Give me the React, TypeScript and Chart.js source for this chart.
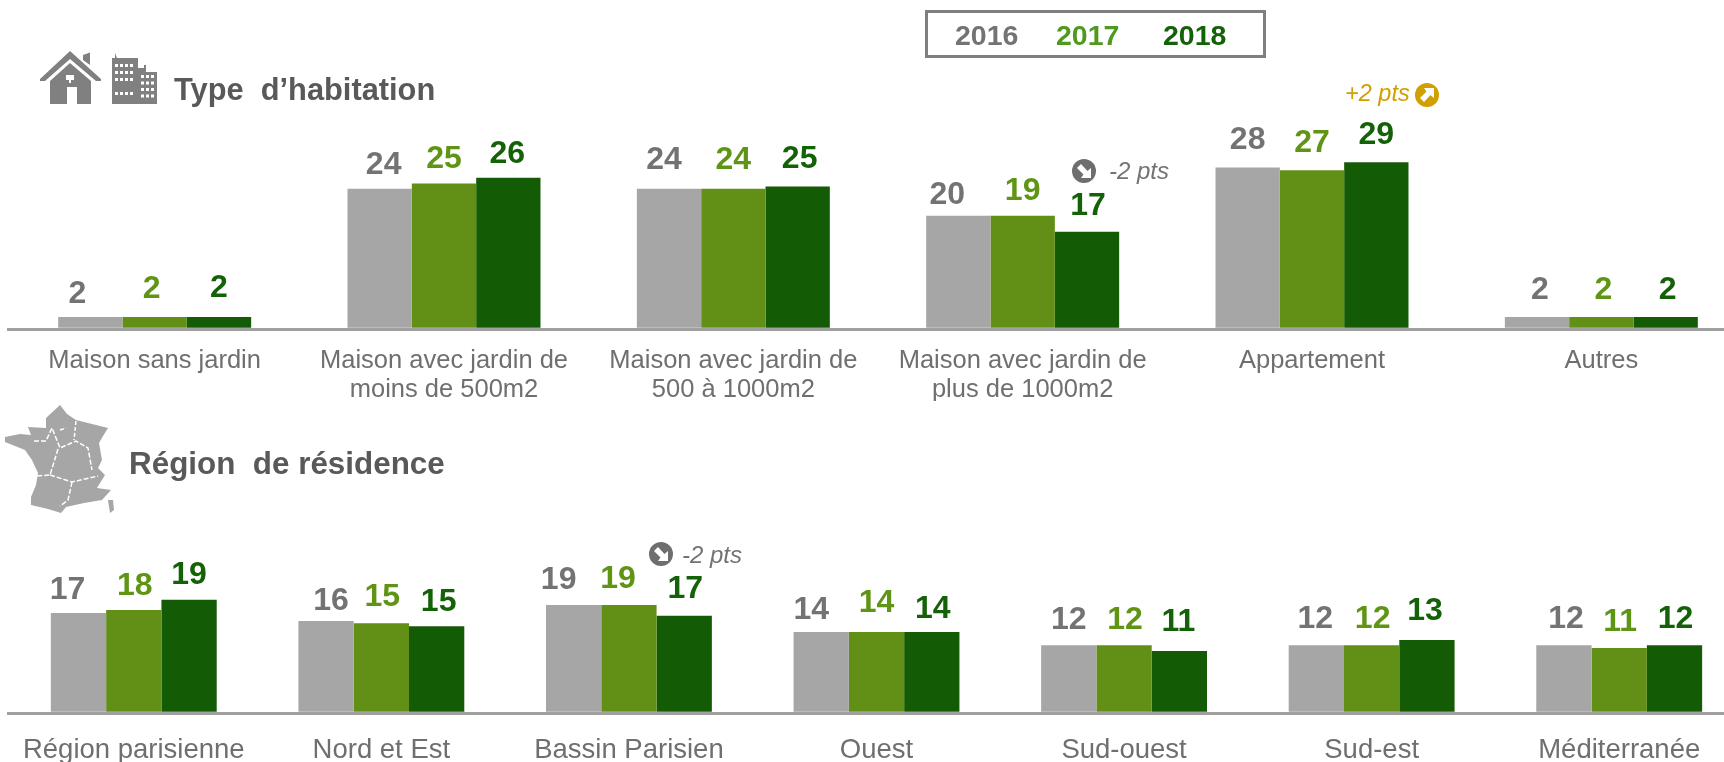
import React, { useEffect, useRef } from "react";
import { Chart, registerables } from "chart.js";

Chart.register(...registerables);

const seriesNames = ["2016", "2017", "2018"];

const housingCategories = [
  "Maison sans jardin",
  ["Maison avec jardin de", "moins de 500m2"],
  ["Maison avec jardin de", "500 à 1000m2"],
  ["Maison avec jardin de", "plus de 1000m2"],
  "Appartement",
  "Autres",
];
const housing2016 = [1.9, 24.2, 24.2, 19.5, 27.9, 1.9];
const housing2017 = [1.9, 25.1, 24.2, 19.5, 27.4, 1.9];
const housing2018 = [1.9, 26.1, 24.6, 16.7, 28.8, 1.9];
const housingLabels2016 = [2, 24, 24, 20, 28, 2];
const housingLabels2017 = [2, 25, 24, 19, 27, 2];
const housingLabels2018 = [2, 26, 25, 17, 29, 2];

const regionCategories = [
  "Région parisienne",
  "Nord et Est",
  "Bassin Parisien",
  "Ouest",
  "Sud-ouest",
  "Sud-est",
  "Méditerranée",
];
const region2016 = [17.2, 15.8, 18.6, 13.9, 11.6, 11.6, 11.6];
const region2017 = [17.7, 15.4, 18.6, 13.9, 11.6, 11.6, 11.1];
const region2018 = [19.5, 14.9, 16.7, 13.9, 10.6, 12.5, 11.6];
const regionLabels2016 = [17, 16, 19, 14, 12, 12, 12];
const regionLabels2017 = [18, 15, 19, 14, 12, 12, 11];
const regionLabels2018 = [19, 15, 17, 14, 11, 13, 12];

// label placement tweaks: [dx, height of label centre above the bar]
const housingNudges = [
  [[-13, 23], [-3, 28], [0, 29]],
  [[4, 24], [0, 24], [-1, 24]],
  [[-5, 29], [0, 29], [2, 27]],
  [[-11, 21], [0, 25], [1, 26]],
  [[0, 27], [0, 27], [0, 27]],
  [[3, 27], [2, 27], [2, 27]],
];
const regionNudges = [
  [[-11, 23], [1, 24], [0, 25]],
  [[5, 20], [1, 26], [2, 24]],
  [[-15, 25], [-11, 26], [1, 27]],
  [[-10, 22], [0, 29], [1, 23]],
  [[0, 25], [1, 25], [-1, 29]],
  [[-1, 26], [1, 26], [-2, 29]],
  [[2, 26], [1, 26], [1, 26]],
];

const BAR_COLORS = ["#a6a6a6", "#628f15", "#145b06"];
const TEXT_COLORS = ["#737373", "#5f9414", "#146207"];
const FONT = '"Liberation Sans", Arial, sans-serif';

const valueLabelPlugin = {
  id: "valueLabels",
  afterDraw(chart: any) {
    const { labels, nudges } = chart.options.plugins.valueLabels;
    const ctx = chart.ctx;
    ctx.save();
    ctx.textAlign = "center";
    ctx.textBaseline = "middle";
    ctx.font = `bold 32px ${FONT}`;
    labels.forEach((row: number[], ds: number) => {
      const meta = chart.getDatasetMeta(ds);
      row.forEach((v: number, i: number) => {
        const el = meta.data[i];
        const [dx, h] = nudges[i][ds];
        ctx.fillStyle = TEXT_COLORS[ds];
        ctx.fillText(String(v), el.x + dx, el.y - h);
      });
    });
    // axis line continues a little to the left of the plot area
    const y = Math.round(chart.scales.x.top - 1.5);
    ctx.fillStyle = "#a0a0a0";
    ctx.fillRect(0, y, chart.chartArea.left, 3);
    ctx.restore();
  },
};

function makeChart(
  canvas: HTMLCanvasElement,
  categories: any[],
  series: number[][],
  labels: number[][],
  nudges: number[][][],
  yMin: number,
  yMax: number,
  axisHeight: number,
  categoryPercentage: number,
  tickPadding: number,
  tickFontSize: number
) {
  return new Chart(canvas, {
    type: "bar",
    data: {
      labels: categories,
      datasets: series.map((data, i) => ({
        label: seriesNames[i],
        data,
        backgroundColor: BAR_COLORS[i],
        borderWidth: 0,
        barPercentage: 1,
        categoryPercentage,
      })),
    },
    plugins: [valueLabelPlugin],
    options: {
      responsive: false,
      animation: false,
      devicePixelRatio: 1,
      layout: { padding: { left: 3, right: 0, top: 0, bottom: 0 } },
      plugins: {
        legend: { display: false },
        tooltip: { enabled: false },
        title: { display: false },
        valueLabels: { labels, nudges },
      } as any,
      scales: {
        y: { display: false, min: yMin, max: yMax },
        x: {
          afterFit(scale: any) {
            scale.height = axisHeight;
          },
          grid: { display: false },
          border: { display: true, color: "#a0a0a0", width: 3, z: 1 },
          ticks: {
            autoSkip: false,
            maxRotation: 0,
            minRotation: 0,
            padding: tickPadding,
            color: "#6f6f6f",
            font: { family: FONT, size: tickFontSize, lineHeight: 1.12 },
          },
        },
      },
    },
  } as any);
}

const absText = (
  x: number,
  y: number,
  text: string,
  style: React.CSSProperties
) => (
  <span
    style={{
      position: "absolute",
      left: x,
      top: y,
      transform: "translateY(-50%)",
      whiteSpace: "pre",
      fontFamily: FONT,
      lineHeight: 1,
      ...style,
    }}
  >
    {text}
  </span>
);

const TrendIcon = ({ cx, cy, color, up }: { cx: number; cy: number; color: string; up: boolean }) => (
  <g transform={`translate(${cx} ${cy}) ${up ? "" : "scale(1 -1)"}`}>
    <circle r="12" fill={color} />
    <path d="M-3 -7 L7 -7 L7 3 L3.5 0 L-3 7 L-7 3 L-0.5 -3.5 Z" fill="#fff" />
  </g>
);

const buildingWindows1 = [0, 1, 2, 3];
const buildingRows1 = [0, 1, 2, 4];
const buildingRows2 = [0, 1, 2, 3];

const Icons = () => (
  <svg
    width={1724}
    height={762}
    style={{ position: "absolute", left: 0, top: 0, pointerEvents: "none" }}
  >
    {/* house */}
    <g fill="#808080">
      <path d="M83 55 L90 52.5 L90 65 L83 60 Z" />
      <path d="M70 51 L101 79 L101 81 L96 81 L70 59 L45 81 L40 81 L40 79 Z" />
      <path d="M70 63 L91 81 L91 104 L77 104 L77 87 L67 87 L67 104 L50 104 L50 81 Z" />
    </g>
    <path d="M66 75 L74 75 L74 80 L71 80 L71 83 L69 83 L69 80 L66 80 Z" fill="#fff" />
    {/* buildings */}
    <path
      d="M112 104 L112 58 L115 58 L115 53 L117 58 L138 58 L138 68 L144 68 L144 65 L146 65 L146 72 L157 72 L157 104 Z"
      fill="#808080"
    />
    {buildingRows1.map((r) =>
      buildingWindows1.map((c) => (
        <rect key={`${r}-${c}`} x={115 + c * 5} y={64 + r * 7} width={3} height={3} fill="#fff" />
      ))
    )}
    {buildingRows2.map((r) =>
      [0, 1, 2].map((c) => (
        <rect key={`b${r}-${c}`} x={141 + c * 5} y={75 + r * 6.5} width={3} height={3} fill="#fff" />
      ))
    )}
    {/* France */}
    <path
      d="M60 405 L67 414 L76 420 L92 424 L108 428 L103 436 L99 443 L102 460 L98 468 L105 475 L97 488 L111 490 L102 500 L84 503 L66 507 L61 513 L48 509 L31 505 L31 497 L36 485 L38 473 L32 460 L25 450 L15 446 L5 442 L5 437 L20 434 L31 435 L28 427 L46 428 L46 418 Z"
      fill="#a6a6a6"
    />
    <path d="M108 500 L113 500 L114 510 L110 513 Z" fill="#a6a6a6" />
    <g fill="none" stroke="#fff" strokeWidth="1.5">
      <path d="M34 441 L46 441 L52 428 L60 448 L76 441 L88 448 L92 470" strokeDasharray="5 2" />
      <path d="M58 449 L50 475 L36 476 M50 475 L72 482 L98 476 M72 482 L68 500 L60 506" strokeDasharray="5 2" />
      <path d="M76 421 L74 440 M60 430 L66 428" strokeDasharray="4 2" />
    </g>
    <TrendIcon cx={1084} cy={171} color="#6e6e6e" up={false} />
    <TrendIcon cx={1427} cy={95} color="#d19f00" up={true} />
    <TrendIcon cx={661} cy={554} color="#6e6e6e" up={false} />
  </svg>
);

export default function App() {
  const topRef = useRef<HTMLCanvasElement>(null);
  const bottomRef = useRef<HTMLCanvasElement>(null);

  useEffect(() => {
    const top = makeChart(
      topRef.current!,
      housingCategories,
      [housing2016, housing2017, housing2018],
      [housingLabels2016, housingLabels2017, housingLabels2018],
      housingNudges,
      -0.2,
      40.15,
      72,
      0.667,
      10,
      25.5
    );
    const bottom = makeChart(
      bottomRef.current!,
      regionCategories,
      [region2016, region2017, region2018],
      [regionLabels2016, regionLabels2017, regionLabels2018],
      regionNudges,
      -0.2,
      31.8,
      49,
      0.67,
      14,
      27.5
    );
    return () => {
      top.destroy();
      bottom.destroy();
    };
  }, []);

  return (
    <div
      style={{
        position: "fixed",
        left: 0,
        top: 0,
        width: 1724,
        height: 762,
        overflow: "hidden",
        background: "#fff",
      }}
    >
      <canvas
        ref={topRef}
        width={1739}
        height={304}
        style={{ position: "absolute", left: 7, top: 97, display: "block" }}
      />
      <canvas
        ref={bottomRef}
        width={1736}
        height={233}
        style={{ position: "absolute", left: 7, top: 529, display: "block" }}
      />
      <Icons />
      <div
        style={{
          position: "absolute",
          left: 925,
          top: 10,
          width: 341,
          height: 48,
          boxSizing: "border-box",
          border: "3px solid #7f7f7f",
        }}
      />
      {absText(955, 35, "2016", { fontSize: 28.5, fontWeight: 700, color: TEXT_COLORS[0] })}
      {absText(1056, 35, "2017", { fontSize: 28.5, fontWeight: 700, color: "#4f9a1e" })}
      {absText(1163, 35, "2018", { fontSize: 28.5, fontWeight: 700, color: TEXT_COLORS[2] })}
      {absText(174, 90, "Type  d’habitation", { fontSize: 30.8, fontWeight: 700, color: "#595959" })}
      {absText(129, 464, "Région  de résidence", { fontSize: 31.4, fontWeight: 700, color: "#595959" })}
      {absText(1109, 171, "-2 pts", { fontSize: 24, fontStyle: "italic", color: "#737373" })}
      {absText(1345, 94, "+2 pts", { fontSize: 23.5, fontStyle: "italic", color: "#d19f00" })}
      {absText(682, 555, "-2 pts", { fontSize: 24, fontStyle: "italic", color: "#737373" })}
    </div>
  );
}
